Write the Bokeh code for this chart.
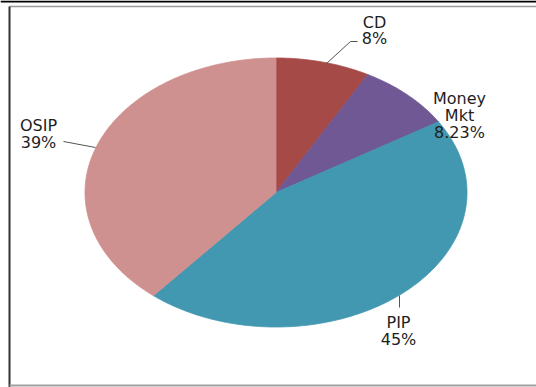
import math
from bokeh.plotting import figure
from bokeh.models import Range1d
from bokeh.core.properties import value
from bokeh.embed import file_html
from bokeh.resources import INLINE

# Portfolio split
categories = ["CD", "Money Mkt", "PIP", "OSIP"]
shares = [8, 8.23, 45, 39]
share_labels = ["8%", "8.23%", "45%", "39%"]
colors = ["#A64A47", "#6F5894", "#4298B0", "#CF918F"]

W, H = 536, 387
p = figure(width=W, height=H, output_backend="svg", toolbar_location=None,
           x_range=Range1d(0, W), y_range=Range1d(H, 0),
           min_border=0, outline_line_color=None)
p.axis.visible = False
p.grid.visible = False
p.background_fill_color = "white"
p.border_fill_color = "white"

# frame lines
p.quad(left=[0], right=[W], top=[0], bottom=[2], fill_color="black", line_color=None)
p.segment(x0=[9], y0=[6], x1=[W], y1=[6], line_color="#9a9a9a", line_width=1.5)
p.segment(x0=[9], y0=[6], x1=[9], y1=[H], line_color="#333333", line_width=2)
p.segment(x0=[9], y0=[385], x1=[W], y1=[385], line_color="#a0a0a0", line_width=2)

# elliptical pie, clockwise from 12 o'clock
cx, cy, rx, ry = 275.5, 192, 191, 134.5
total = sum(shares)
xs, ys = [], []
start = 0.0
for s in shares:
    end = start + s / total * 2 * math.pi
    n = max(8, int((end - start) / 0.01))
    px, py = [cx], [cy]
    for i in range(n + 1):
        t = start + (end - start) * i / n
        px.append(cx + rx * math.sin(t))
        py.append(cy - ry * math.cos(t))
    xs.append(px)
    ys.append(py)
    start = end
p.patches(xs, ys, fill_color=colors, line_color=colors, line_width=0.8)

# leader lines
p.multi_line(xs=[[326, 350, 357], [63, 95], [399, 399]],
             ys=[[63, 41, 41], [141, 147], [295, 307]],
             line_color="#555555", line_width=1)

# data labels: category lines then percentage
anchors = [(374, 21.5), (459, 98), (398, 322), (38, 125)]
step = 16.8
tx, ty, tt = [], [], []
for name, lab, (ax, ay) in zip(categories, share_labels, anchors):
    lines = name.split(" ") + [lab]
    for k, ln in enumerate(lines):
        tx.append(ax)
        ty.append(ay + k * step)
        tt.append(ln)
p.text(x=tx, y=ty, text=tt, text_align="center", text_baseline="alphabetic",
       text_font=value("DejaVu Sans"), text_font_size="16px", text_color="#1e1e1e")

open("out.html", "w").write(file_html(p, INLINE))
